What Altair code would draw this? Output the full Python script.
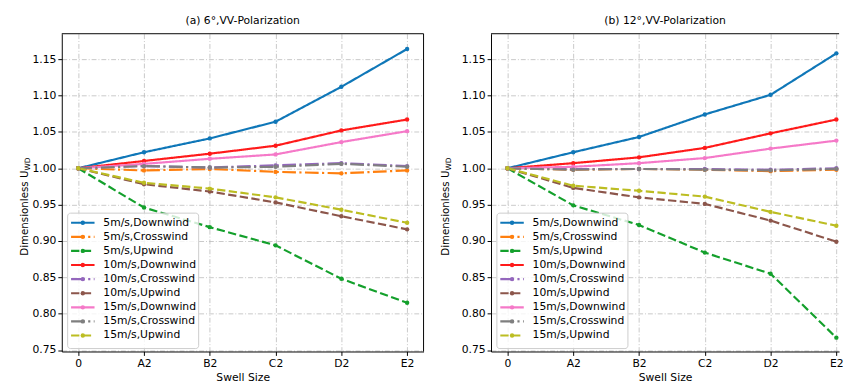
import altair as alt
import pandas as pd

categories = ["0", "A2", "B2", "C2", "D2", "E2"]
series = ["5m/s,Downwind", "5m/s,Crosswind", "5m/s,Upwind",
          "10m/s,Downwind", "10m/s,Crosswind", "10m/s,Upwind",
          "15m/s,Downwind", "15m/s,Crosswind", "15m/s,Upwind"]
colors = ["#0f77b8", "#ff7f0e", "#14a02c", "#ff1a1a", "#9467bd",
          "#8c564b", "#f579c8", "#7f7f7f", "#bcbd22"]
SOLID = [1, 0]
DASHDOT = [14, 3.5, 2.2, 3.5]
DASHED = [8.5, 3.5]
dashes = [SOLID, DASHDOT, DASHED,
          SOLID, DASHDOT, DASHED,
          SOLID, DASHDOT, DASHED]

# (a) 6 deg, VV
a_5_down = [1.0, 1.022, 1.041, 1.064, 1.112, 1.164]
a_5_cross = [1.0, 0.997, 0.999, 0.995, 0.993, 0.997]
a_5_up = [1.0, 0.946, 0.919, 0.894, 0.848, 0.815]
a_10_down = [1.0, 1.010, 1.020, 1.031, 1.052, 1.067]
a_10_cross = [1.0, 1.003, 1.001, 1.004, 1.007, 1.003]
a_10_up = [1.0, 0.978, 0.968, 0.953, 0.934, 0.916]
a_15_down = [1.0, 1.006, 1.013, 1.019, 1.036, 1.051]
a_15_cross = [1.0, 1.003, 1.001, 1.002, 1.006, 1.002]
a_15_up = [1.0, 0.980, 0.972, 0.960, 0.943, 0.925]

# (b) 12 deg, VV
b_5_down = [1.0, 1.022, 1.043, 1.074, 1.101, 1.158]
b_5_cross = [1.0, 0.998, 0.999, 0.998, 0.996, 0.998]
b_5_up = [1.0, 0.949, 0.922, 0.884, 0.855, 0.767]
b_10_down = [1.0, 1.007, 1.015, 1.028, 1.048, 1.067]
b_10_cross = [1.0, 0.999, 0.999, 0.999, 0.998, 1.000]
b_10_up = [1.0, 0.973, 0.960, 0.951, 0.928, 0.899]
b_15_down = [1.0, 1.002, 1.007, 1.014, 1.027, 1.038]
b_15_cross = [1.0, 0.998, 0.999, 0.998, 0.997, 0.999]
b_15_up = [1.0, 0.976, 0.969, 0.961, 0.940, 0.921]

panel_a = [a_5_down, a_5_cross, a_5_up, a_10_down, a_10_cross, a_10_up,
           a_15_down, a_15_cross, a_15_up]
panel_b = [b_5_down, b_5_cross, b_5_up, b_10_down, b_10_cross, b_10_up,
           b_15_down, b_15_cross, b_15_up]

y_ticks = [0.75, 0.80, 0.85, 0.90, 0.95, 1.00, 1.05, 1.10, 1.15]
Y_DOMAIN = [0.748, 1.185]
H = 325
W_LEFT = 370
W_RIGHT = 356
PX_PER_UNIT = W_LEFT / 5.5
FONT = "DejaVu Sans"
GRID_DASH = [5, 2, 1, 2]
LW = 2.2


def long_df(values):
    rows = []
    for si, (name, vals) in enumerate(zip(series, values)):
        for xi, v in enumerate(vals):
            rows.append({"series": name, "order": si, "xi": xi, "value": v})
    return pd.DataFrame(rows)


legend_df = pd.DataFrame({
    "series": series,
    "order": list(range(len(series))),
    "py": [193.3 + i * 14.42 for i in range(len(series))],
    "x0": [9.5] * len(series),
    "x1": [33.5] * len(series),
    "xm": [21.5] * len(series),
    "tx": [42.5] * len(series),
})

color_enc = alt.Color("series:N", scale=alt.Scale(domain=series, range=colors), legend=None)
dash_enc = alt.StrokeDash("series:N", scale=alt.Scale(domain=series, range=dashes), legend=None)

label_expr = "[" + ",".join("'" + c + "'" for c in categories) + "][datum.value]"

one = pd.DataFrame({"k": [0]})


def panel(values, title, width, ytitle_x, right_border):
    xmax = -0.25 + width / PX_PER_UNIT
    df = long_df(values)
    x = alt.X("xi:Q",
              scale=alt.Scale(domain=[-0.25, xmax], nice=False, zero=False),
              axis=alt.Axis(values=list(range(len(categories))), labelExpr=label_expr,
                            title="Swell Size", grid=True))
    y = alt.Y("value:Q",
              scale=alt.Scale(domain=Y_DOMAIN, nice=False, zero=False),
              axis=alt.Axis(values=y_ticks, format=".2f", title=None, grid=True))
    base = alt.Chart(df)
    lines = base.mark_line(strokeWidth=LW, clip=True).encode(
        x=x, y=y, color=color_enc, strokeDash=dash_enc,
        order=alt.Order("xi:Q"))
    points = base.mark_circle(size=20, opacity=1).encode(x=x, y=y, color=color_enc)
    layers = [lines, points]

    top = alt.Chart(one).mark_rule(color="black", strokeWidth=1).encode(
        x=alt.value(0), x2=alt.value(width), y=alt.value(0))
    layers.append(top)
    if right_border:
        rb = alt.Chart(one).mark_rule(color="black", strokeWidth=1).encode(
            x=alt.value(width), y=alt.value(0), y2=alt.value(H))
        layers.append(rb)

    box = alt.Chart(one).mark_rect(fill="white", fillOpacity=0.8, stroke="#cccccc",
                                   strokeWidth=1, cornerRadius=3).encode(
        x=alt.value(6), x2=alt.value(140), y=alt.value(183.5), y2=alt.value(322))
    leg = alt.Chart(legend_df)
    leg_lines = leg.mark_rule(strokeWidth=LW).encode(
        x=alt.X("x0:Q", scale=None), x2="x1:Q", y=alt.Y("py:Q", scale=None),
        color=color_enc, strokeDash=dash_enc)
    leg_pts = leg.mark_circle(size=20, opacity=1).encode(
        x=alt.X("xm:Q", scale=None), y=alt.Y("py:Q", scale=None), color=color_enc)
    leg_txt = leg.mark_text(align="left", baseline="middle", font=FONT, fontSize=11,
                            color="#000000").encode(
        x=alt.X("tx:Q", scale=None), y=alt.Y("py:Q", scale=None), text="series:N")
    layers += [box, leg_lines, leg_pts, leg_txt]

    t1 = alt.Chart(one).mark_text(text="Dimensionless U", angle=270, align="right",
                                  baseline="middle", font=FONT, fontSize=10.5,
                                  color="#000000").encode(
        x=alt.value(ytitle_x), y=alt.value(140))
    t2 = alt.Chart(one).mark_text(text="WD", angle=270, align="left",
                                  baseline="middle", font=FONT, fontSize=7.5,
                                  color="#000000").encode(
        x=alt.value(ytitle_x + 3), y=alt.value(140))
    layers += [t1, t2]

    return alt.layer(*layers).properties(
        width=width, height=H,
        title=alt.TitleParams(title, anchor="middle", font=FONT, fontSize=11,
                              fontWeight="normal", color="#000000", offset=7))


left = panel(panel_a, "(a) 6°,VV-Polarization", W_LEFT, -38, True)
right = panel(panel_b, "(b) 12°,VV-Polarization", W_RIGHT, -46, False)

chart = alt.hconcat(left, right, spacing=17).properties(
    padding={"left": 12, "top": 3, "right": 0, "bottom": 0}
).configure_view(stroke=None).configure_axis(
    labelFont=FONT, labelFontSize=11, labelColor="#000000", labelPadding=2,
    titleFont=FONT, titleFontSize=11, titleFontWeight="normal", titleColor="#000000",
    titlePadding=4,
    tickColor="#000000", tickSize=4, domainColor="#000000", domainWidth=1,
    gridColor="#bbbbbb", gridDash=GRID_DASH, gridWidth=0.8
)

chart.save("out.html", embed_options={"renderer": "svg", "actions": False})
